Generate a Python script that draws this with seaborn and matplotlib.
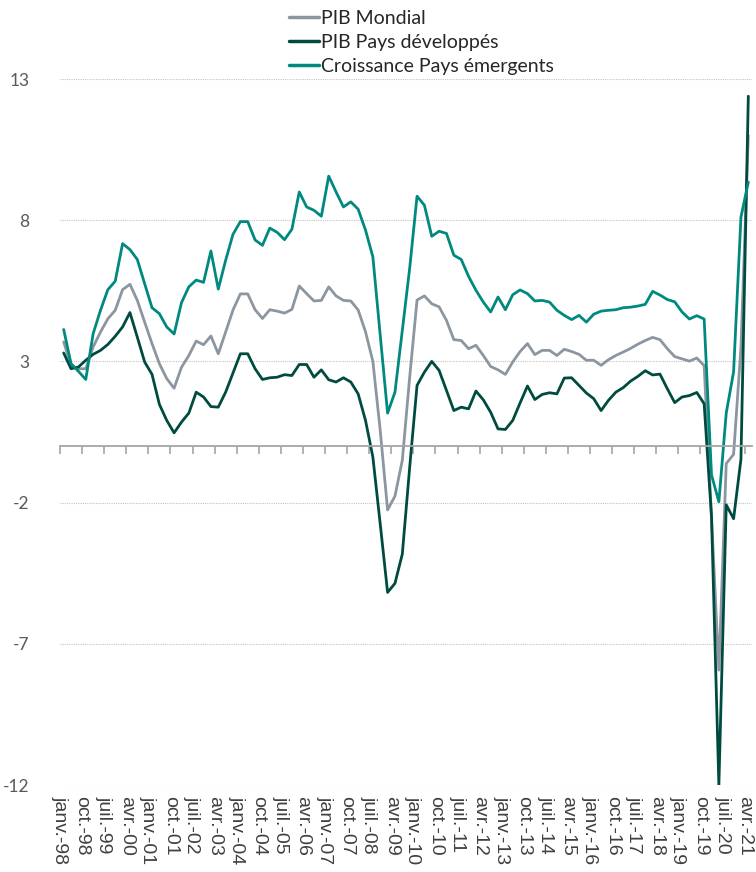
import numpy as np
import pandas as pd
import seaborn as sns
import matplotlib.pyplot as plt
from matplotlib.lines import Line2D

# ---- données trimestrielles (glissement annuel, %), T1 1998 -> T2 2021 ----
pib_mondial = [3.69, 2.86, 2.74, 2.74, 3.51, 4.04, 4.51, 4.81, 5.54, 5.73,
               5.16, 4.39, 3.63, 2.92, 2.39, 2.05, 2.79, 3.21, 3.72, 3.59,
               3.90, 3.27, 4.04, 4.82, 5.39, 5.39, 4.83, 4.52, 4.83, 4.78,
               4.71, 4.84, 5.67, 5.40, 5.14, 5.16, 5.64, 5.32, 5.16, 5.14,
               4.82, 4.05, 3.00, 0.55, -2.26, -1.77, -0.50, 2.44, 5.17, 5.32,
               5.04, 4.93, 4.45, 3.77, 3.74, 3.45, 3.57, 3.21, 2.82, 2.70,
               2.54, 2.98, 3.35, 3.63, 3.24, 3.39, 3.39, 3.21, 3.43, 3.35,
               3.25, 3.04, 3.04, 2.86, 3.06, 3.21, 3.33, 3.46, 3.61, 3.74,
               3.85, 3.77, 3.45, 3.17, 3.09, 3.01, 3.12, 2.85, -2.50, -7.93,
               -0.62, -0.29, 3.50, 11.00]

pib_developpes = [3.30, 2.74, 2.80, 3.04, 3.25, 3.39, 3.60, 3.89, 4.22, 4.73,
                  3.86, 2.98, 2.54, 1.48, 0.91, 0.47, 0.85, 1.17, 1.91, 1.74,
                  1.40, 1.38, 1.91, 2.59, 3.27, 3.27, 2.74, 2.36, 2.42, 2.44,
                  2.53, 2.50, 2.89, 2.89, 2.44, 2.70, 2.35, 2.27, 2.42, 2.27,
                  1.85, 0.91, -0.39, -2.76, -5.18, -4.86, -3.82, -0.75, 2.15, 2.62,
                  3.00, 2.68, 1.97, 1.26, 1.38, 1.32, 1.95, 1.64, 1.20, 0.61,
                  0.59, 0.91, 1.53, 2.13, 1.65, 1.83, 1.89, 1.85, 2.41, 2.42,
                  2.15, 1.88, 1.68, 1.26, 1.62, 1.91, 2.07, 2.30, 2.47, 2.67,
                  2.52, 2.55, 2.03, 1.54, 1.74, 1.79, 1.90, 1.50, -2.50, -12.00,
                  -2.08, -2.57, -0.46, 12.39]

croissance_emergents = [4.13, 2.92, 2.65, 2.36, 3.98, 4.81, 5.54, 5.84, 7.17, 6.96,
                        6.61, 5.75, 4.90, 4.69, 4.22, 3.97, 5.08, 5.64, 5.88, 5.80,
                        6.91, 5.56, 6.58, 7.50, 7.95, 7.95, 7.30, 7.11, 7.72, 7.57,
                        7.31, 7.68, 9.00, 8.47, 8.35, 8.14, 9.56, 9.00, 8.47, 8.65,
                        8.39, 7.65, 6.70, 3.92, 1.17, 1.91, 4.10, 6.30, 8.85, 8.53,
                        7.43, 7.61, 7.53, 6.76, 6.61, 6.01, 5.52, 5.10, 4.75, 5.28,
                        4.83, 5.36, 5.53, 5.40, 5.14, 5.16, 5.10, 4.81, 4.63, 4.48,
                        4.63, 4.39, 4.67, 4.78, 4.81, 4.83, 4.90, 4.92, 4.96, 5.02,
                        5.48, 5.35, 5.19, 5.11, 4.75, 4.50, 4.62, 4.50, -1.02, -1.97,
                        1.17, 2.63, 8.11, 9.35]

# libellés de l'axe (un tous les 3 trimestres)
etiquettes = ['janv.-98', 'oct.-98', 'juil.-99', 'avr.-00', 'janv.-01', 'oct.-01',
              'juil.-02', 'avr.-03', 'janv.-04', 'oct.-04', 'juil.-05', 'avr.-06',
              'janv.-07', 'oct.-07', 'juil.-08', 'avr.-09', 'janv.-10', 'oct.-10',
              'juil.-11', 'avr.-12', 'janv.-13', 'oct.-13', 'juil.-14', 'avr.-15',
              'janv.-16', 'oct.-16', 'juil.-17', 'avr.-18', 'janv.-19', 'oct.-19',
              'juil.-20', 'avr.-21']

series = ['PIB Mondial', 'PIB Pays développés', 'Croissance Pays émergents']
couleurs = ['#8C96A0', '#004B40', '#00897F']

n = len(pib_mondial)
df = pd.DataFrame({'pos': np.arange(n),
                   series[0]: pib_mondial,
                   series[1]: pib_developpes,
                   series[2]: croissance_emergents})
df_long = df.melt(id_vars='pos', var_name='serie', value_name='valeur')

sns.set_style('white')
plt.rcParams['font.family'] = ['Lato', 'DejaVu Sans']
plt.rcParams['axes.unicode_minus'] = False

fig = plt.figure(figsize=(7.56, 8.72), dpi=100)
ax = fig.add_axes([60 / 756, 1 - 785 / 872, 692 / 756, (785 - 79) / 872])

sns.lineplot(data=df_long, x='pos', y='valeur', hue='serie', hue_order=series,
             palette=couleurs, linewidth=2.0, sort=False, legend=False, ax=ax)

ax.set_xlim(-0.5, n - 0.5)
ax.set_ylim(-12, 13)
ax.set_yticks([-12, -7, -2, 3, 8, 13])
ax.set_xlabel('')
ax.set_ylabel('')

ax.yaxis.grid(True, linestyle=(0, (1, 1)), color='#c4c4c4', linewidth=0.8)
ax.xaxis.grid(False)
ax.set_axisbelow(True)

for s in ['left', 'right', 'bottom']:
    ax.spines[s].set_visible(False)
ax.spines['top'].set_position(('data', 0))
ax.spines['top'].set_color('#a6a6a6')
ax.spines['top'].set_linewidth(1.3)

ax.set_xticks(np.arange(-0.5, n - 0.5, 3))
ax.set_xticklabels(etiquettes, rotation=-90, family='Liberation Sans')
ax.tick_params(axis='x', bottom=False, top=True, labelbottom=True, labeltop=False,
               direction='in', length=6, width=1.2, color='#a6a6a6',
               labelsize=14, labelcolor='#404040', pad=8)
ax.tick_params(axis='y', length=0, labelsize=12.5, labelcolor='#595959', pad=22)

handles = [Line2D([], [], color=c, linewidth=2.5) for c in couleurs]
fig.legend(handles, series, loc='upper left', bbox_to_anchor=(289 / 756, 1 - 10 / 872),
           frameon=False, fontsize=14, handlelength=1.55, handletextpad=0.12,
           labelspacing=0.36, borderaxespad=0, borderpad=0)

fig.savefig('out.png', dpi=100)
